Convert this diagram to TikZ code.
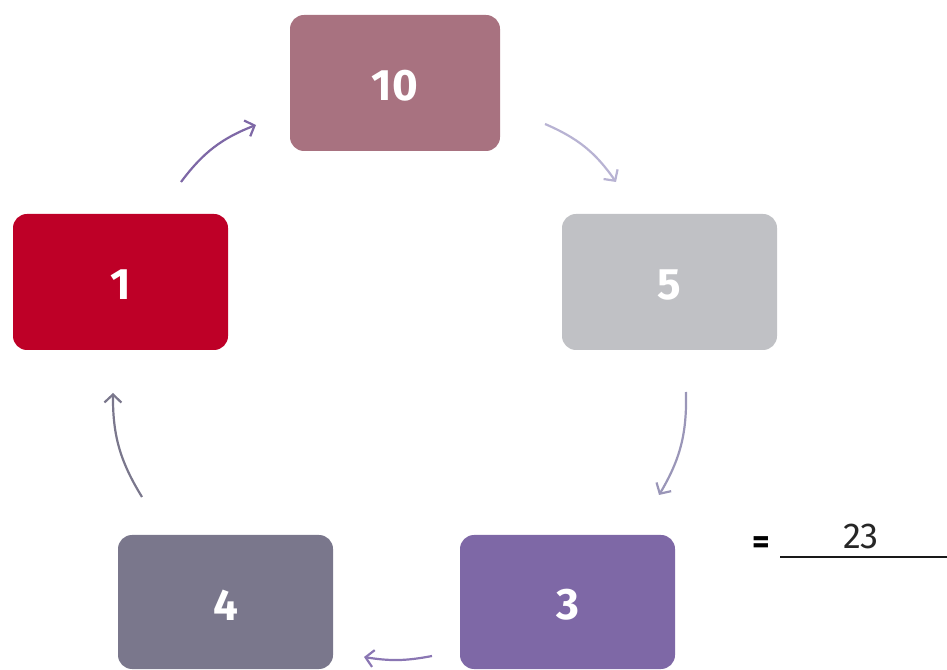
\documentclass[tikz,border=0pt]{standalone}
\usepackage{fontspec}
\setmainfont{Fira Sans}
\usetikzlibrary{arrows.meta}
\definecolor{cTen}{HTML}{A87280}
\definecolor{cFive}{HTML}{C0C1C5}
\definecolor{cOne}{HTML}{BE0027}
\definecolor{cFour}{HTML}{7A778C}
\definecolor{cThree}{HTML}{7E68A6}
\definecolor{aOne}{HTML}{7E68A6}
\definecolor{aTwo}{HTML}{B8B3D3}
\definecolor{aThree}{HTML}{9A96B8}
\definecolor{aFour}{HTML}{8A76B3}
\definecolor{aFive}{HTML}{7A778C}
\begin{document}
\begin{tikzpicture}[x=1pt,y=1pt,
  numbox/.style={rounded corners=14pt, minimum width=215pt, minimum height=136pt,
    inner sep=0pt, text=white, font=\fontsize{44}{44}\selectfont\bfseries},
  numtxt/.style={text=white, inner sep=0pt, font=\fontsize{44}{44}\selectfont\bfseries},
  cyc/.style={line width=2.2pt, -{Straight Barb[length=8pt,width=17pt,line width=2.2pt]}, bend left=16}]
\useasboundingbox (0,0) rectangle (947,669);
\node[numbox, fill=cTen, minimum width=210pt] (n10) at (395,586) {};
\node[numbox, fill=cFive] (n5) at (669.5,387) {};
\node[numbox, fill=cOne] (n1) at (120.5,387) {};
\node[numbox, fill=cFour, minimum height=134pt] (n4) at (225.5,67) {};
\node[numbox, fill=cThree, minimum height=134pt] (n3) at (567.5,67) {};
\node[numtxt] (t10) at ([yshift=-3pt]n10.center) {10};
\node[numtxt] (t5) at ([yshift=-3pt]n5.center) {5};
\node[numtxt] (t1) at ([yshift=-3pt]n1.center) {1};
\node[numtxt] (t4) at ([yshift=-3pt]n4.center) {4};
\node[numtxt] (t3) at ([yshift=-3pt]n3.center) {3};
\coordinate (a1s) at (181,487); \coordinate (a1e) at (256,544);
\coordinate (a2s) at (545,545); \coordinate (a2e) at (616,487);
\coordinate (a3s) at (686,277); \coordinate (a3e) at (659,174);
\coordinate (a4s) at (432,13);  \coordinate (a4e) at (364,12);
\coordinate (a5s) at (142,172); \coordinate (a5e) at (113,276);
\draw[cyc, draw=aOne] (a1s) to (a1e);
\draw[cyc, draw=aTwo] (a2s) to (a2e);
\draw[cyc, draw=aThree] (a3s) to (a3e);
\draw[cyc, draw=aFour, bend left=10] (a4s) to (a4e);
\draw[cyc, draw=aFive] (a5s) to (a5e);
\node[font=\fontsize{34}{34}\selectfont\bfseries, text=black, inner sep=0pt] (eq) at (761,124) {=};
\coordinate (ulA) at (780,112); \coordinate (ulB) at (947,112);
\draw[line width=2pt, black!90] (ulA) -- (ulB);
\node[font=\fontsize{36}{36}\selectfont, text=black!85, inner sep=0pt] (ans) at (861,133) {23};
\end{tikzpicture}
\end{document}
